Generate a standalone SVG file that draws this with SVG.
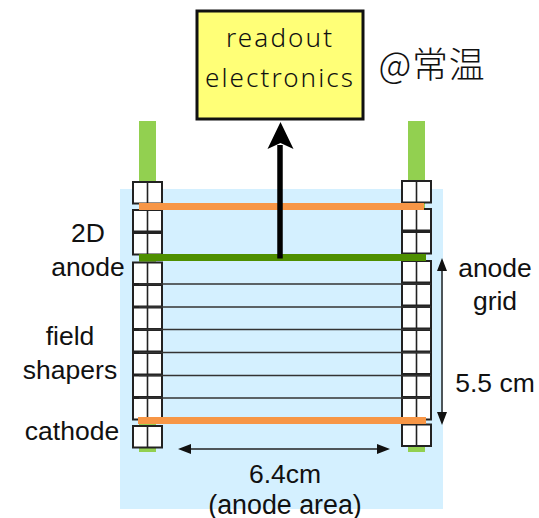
<svg xmlns="http://www.w3.org/2000/svg" width="539" height="518" viewBox="0 0 539 518">
<style>
text{font-family:"Liberation Sans",Arial,"Noto Sans CJK JP",sans-serif;font-size:26.5px;fill:#111;text-anchor:middle}
.jp{font-family:"Noto Sans CJK JP",sans-serif;font-size:36px;font-weight:300;letter-spacing:.8px}
.r{font-family:"Noto Sans",sans-serif;font-size:26px;font-weight:300}
.b{fill:#fff;stroke:#222;stroke-width:2}
.m{stroke:#222;stroke-width:1.6;fill:none}
.f{stroke:#333;stroke-width:1.4;fill:none}
.d{stroke:#222;stroke-width:1.5;fill:none}
</style>
<defs>
<g id="cell"><rect class="b" x="0" y="0" width="29" height="21.5"/><path class="m" d="M14.5 0V21.5"/></g>
</defs>
<rect id="volume" x="120" y="189" width="323" height="320" fill="#d4f0ff"/>
<g id="left-post"><rect x="139" y="121" width="17" height="331" fill="#92d050"/></g>
<g id="right-post"><rect x="408" y="121" width="17" height="331" fill="#92d050"/></g>
<g id="left-shapers">
<use href="#cell" x="133" y="182"/><use href="#cell" x="133" y="210"/><use href="#cell" x="133" y="233"/><use href="#cell" x="133" y="262.500"/><use href="#cell" x="133" y="285"/><use href="#cell" x="133" y="307.500"/><use href="#cell" x="133" y="330"/><use href="#cell" x="133" y="353"/><use href="#cell" x="133" y="375.500"/><use href="#cell" x="133" y="398"/><use href="#cell" x="133" y="426"/>
</g>
<g id="right-shapers">
<use href="#cell" x="402" y="181"/><use href="#cell" x="402" y="209"/><use href="#cell" x="402" y="232"/><use href="#cell" x="402" y="261"/><use href="#cell" x="402" y="284"/><use href="#cell" x="402" y="307"/><use href="#cell" x="402" y="330"/><use href="#cell" x="402" y="352.500"/><use href="#cell" x="402" y="375.500"/><use href="#cell" x="402" y="398"/><use href="#cell" x="402" y="424.500"/>
</g>
<g id="grid-wires">
<path class="f" d="M139 284H431M139 307H431M139 329.500H431M139 352.500H431M139 375.500H431M139 398H431"/>
</g>
<g id="top-electrode"><rect x="139" y="203" width="285" height="7" fill="#f79646"/></g>
<g id="anode"><rect x="139" y="254" width="287" height="7" fill="#4e8f00"/></g>
<g id="cathode"><rect x="138" y="417" width="288" height="7" fill="#f79646"/></g>
<g id="connectors">
<path d="M280 258.500V145" stroke="#000" stroke-width="5.500" fill="none"/>
<path d="M280.500 122L293.500 149L280.500 143L267.500 149Z" fill="#000"/>
<path class="d" d="M442 268V416"/>
<path d="M442 258L447 271H437ZM442 425L437 412H447Z" fill="#111"/>
<path class="d" d="M188 449H380"/>
<path d="M178 449L191 444V454ZM390 449L377 444V454Z" fill="#111"/>
</g>
<g id="readout">
<rect x="197" y="11" width="166" height="108" fill="#ffff77" stroke="#111" stroke-width="3"/>
<text class="r" x="279" y="47" textLength="106" lengthAdjust="spacing">readout</text>
<text class="r" x="279" y="87" textLength="148" lengthAdjust="spacing">electronics</text>
</g>
<text class="jp" x="432" y="78">@常温</text>
<text x="88" y="242">2D</text>
<text x="88" y="276">anode</text>
<text x="70" y="345">field</text>
<text x="70" y="379">shapers</text>
<text x="72" y="440">cathode</text>
<text x="495" y="277">anode</text>
<text x="495" y="310">grid</text>
<text x="495" y="392">5.5 cm</text>
<text x="285" y="483">6.4cm</text>
<text x="285" y="513.500" style="font-size:26.8px">(anode area)</text>
</svg>
